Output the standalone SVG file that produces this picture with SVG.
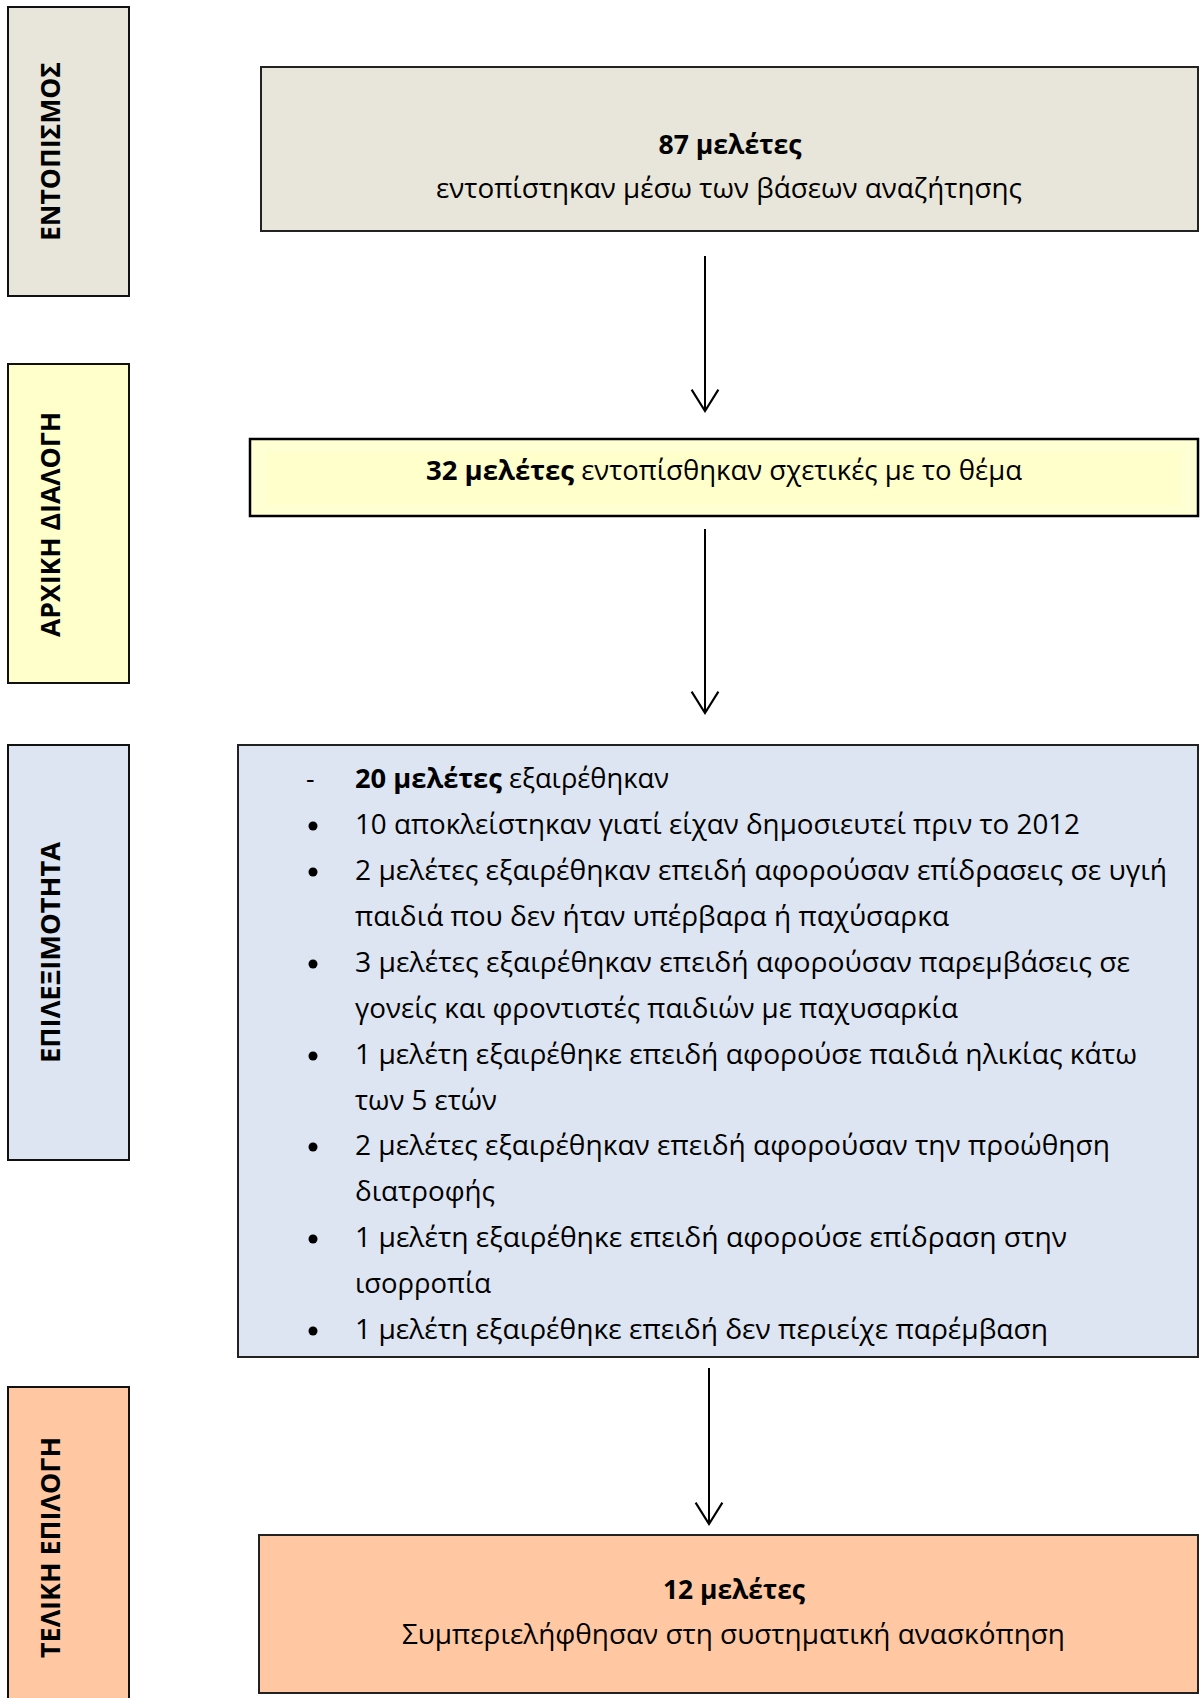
<svg xmlns="http://www.w3.org/2000/svg" width="1200" height="1698" viewBox="0 0 1200 1698">
<style>
.lbl{font-family:"Open Sans","Liberation Sans",sans-serif;font-weight:bold;font-size:27px;fill:#000;text-anchor:middle}
.t{font-family:"Open Sans","Liberation Sans",sans-serif;font-size:26.5px;fill:#000}
.c{text-anchor:middle}
.b{font-weight:bold}
.side{stroke:#111;stroke-width:2}
.box{stroke:#222;stroke-width:2}
.conn{stroke:#000;stroke-width:2;fill:none}
</style>
<defs>
<marker id="arr" markerUnits="userSpaceOnUse" markerWidth="30" markerHeight="30" viewBox="-1 -14 23 28" refX="20" refY="0" orient="auto">
<path d="M0,-12.5 L20,0 L0,12.5" fill="none" stroke="#000" stroke-width="2"/>
</marker>
</defs>
<rect width="1200" height="1698" fill="#fff"/>

<g id="stage1">
<rect class="side" x="8" y="7" width="121" height="289" fill="#E8E6DA"/>
<text class="lbl" transform="translate(50,151.5) rotate(-90)" x="0" y="10" textLength="179" lengthAdjust="spacingAndGlyphs">ΕΝΤΟΠΙΣΜΟΣ</text>
</g>
<g id="stage2">
<rect class="side" x="8" y="364" width="121" height="319" fill="#FFFFCC"/>
<text class="lbl" transform="translate(50,524.5) rotate(-90)" x="0" y="10" textLength="225" lengthAdjust="spacingAndGlyphs">ΑΡΧΙΚΗ ΔΙΑΛΟΓΗ</text>
</g>
<g id="stage3">
<rect class="side" x="8" y="745" width="121" height="415" fill="#DCE5F1"/>
<text class="lbl" transform="translate(50,952.5) rotate(-90)" x="0" y="10" textLength="221" lengthAdjust="spacingAndGlyphs">ΕΠΙΛΕΞΙΜΟΤΗΤΑ</text>
</g>
<g id="stage4">
<rect class="side" x="8" y="1387" width="121" height="330" fill="#FFC8A2"/>
<text class="lbl" transform="translate(50,1547.5) rotate(-90)" x="0" y="10" textLength="221" lengthAdjust="spacingAndGlyphs">ΤΕΛΙΚΗ ΕΠΙΛΟΓΗ</text>
</g>

<g id="identified">
<rect class="box" x="261" y="67" width="937" height="164" fill="#E8E6DA"/>
<text class="t c b" x="730" y="154" textLength="143" lengthAdjust="spacingAndGlyphs">87 μελέτες</text>
<text class="t c" x="729" y="198" textLength="586" lengthAdjust="spacingAndGlyphs">εντοπίστηκαν μέσω των βάσεων αναζήτησης</text>
</g>

<g id="screening">
<rect x="250" y="439" width="948" height="77" fill="#FFFFD4" stroke="#000" stroke-width="2.5"/>
<rect x="267" y="452" width="914" height="53" fill="#FFFFCB"/>
<text class="t" x="426" y="480" textLength="596" lengthAdjust="spacingAndGlyphs"><tspan class="b">32 μελέτες</tspan> εντοπίσθηκαν σχετικές με το θέμα</text>
</g>

<g id="eligibility">
<rect class="box" x="238" y="745" width="960" height="612" fill="#DCE5F1"/>
<text class="t" x="306" y="788">-</text>
<text class="t" x="355" y="788" textLength="314" lengthAdjust="spacingAndGlyphs"><tspan class="b">20 μελέτες</tspan> εξαιρέθηκαν</text>
<circle cx="313" cy="826" r="4.5" fill="#000"/>
<text class="t" x="355" y="834" textLength="725" lengthAdjust="spacingAndGlyphs">10 αποκλείστηκαν γιατί είχαν δημοσιευτεί πριν το 2012</text>
<circle cx="313" cy="872" r="4.5" fill="#000"/>
<text class="t" x="355" y="880" textLength="812" lengthAdjust="spacingAndGlyphs">2 μελέτες εξαιρέθηκαν επειδή αφορούσαν επίδρασεις σε υγιή</text>
<text class="t" x="355" y="926" textLength="594" lengthAdjust="spacingAndGlyphs">παιδιά που δεν ήταν υπέρβαρα ή παχύσαρκα</text>
<circle cx="313" cy="964" r="4.5" fill="#000"/>
<text class="t" x="355" y="972" textLength="775" lengthAdjust="spacingAndGlyphs">3 μελέτες εξαιρέθηκαν επειδή αφορούσαν παρεμβάσεις σε</text>
<text class="t" x="355" y="1018" textLength="603" lengthAdjust="spacingAndGlyphs">γονείς και φροντιστές παιδιών με παχυσαρκία</text>
<circle cx="313" cy="1056" r="4.5" fill="#000"/>
<text class="t" x="355" y="1064" textLength="782" lengthAdjust="spacingAndGlyphs">1 μελέτη εξαιρέθηκε επειδή αφορούσε παιδιά ηλικίας κάτω</text>
<text class="t" x="355" y="1110" textLength="142" lengthAdjust="spacingAndGlyphs">των 5 ετών</text>
<circle cx="313" cy="1147" r="4.5" fill="#000"/>
<text class="t" x="355" y="1155" textLength="755" lengthAdjust="spacingAndGlyphs">2 μελέτες εξαιρέθηκαν επειδή αφορούσαν την προώθηση</text>
<text class="t" x="355" y="1201" textLength="140" lengthAdjust="spacingAndGlyphs">διατροφής</text>
<circle cx="313" cy="1239" r="4.5" fill="#000"/>
<text class="t" x="355" y="1247" textLength="712" lengthAdjust="spacingAndGlyphs">1 μελέτη εξαιρέθηκε επειδή αφορούσε επίδραση στην</text>
<text class="t" x="355" y="1293" textLength="136" lengthAdjust="spacingAndGlyphs">ισορροπία</text>
<circle cx="313" cy="1331" r="4.5" fill="#000"/>
<text class="t" x="355" y="1339" textLength="693" lengthAdjust="spacingAndGlyphs">1 μελέτη εξαιρέθηκε επειδή δεν περιείχε παρέμβαση</text>
</g>

<g id="included">
<rect class="box" x="259" y="1535" width="939" height="158" fill="#FFC8A2"/>
<text class="t c b" x="734" y="1599" textLength="142" lengthAdjust="spacingAndGlyphs">12 μελέτες</text>
<text class="t c" x="733.5" y="1644" textLength="663" lengthAdjust="spacingAndGlyphs">Συμπεριελήφθησαν στη συστηματική ανασκόπηση</text>
</g>

<g id="connectors">
<line class="conn" x1="705" y1="256" x2="705" y2="411" marker-end="url(#arr)"/>
<line class="conn" x1="705" y1="529" x2="705" y2="713" marker-end="url(#arr)"/>
<line class="conn" x1="709" y1="1368" x2="709" y2="1524" marker-end="url(#arr)"/>
</g>
</svg>
